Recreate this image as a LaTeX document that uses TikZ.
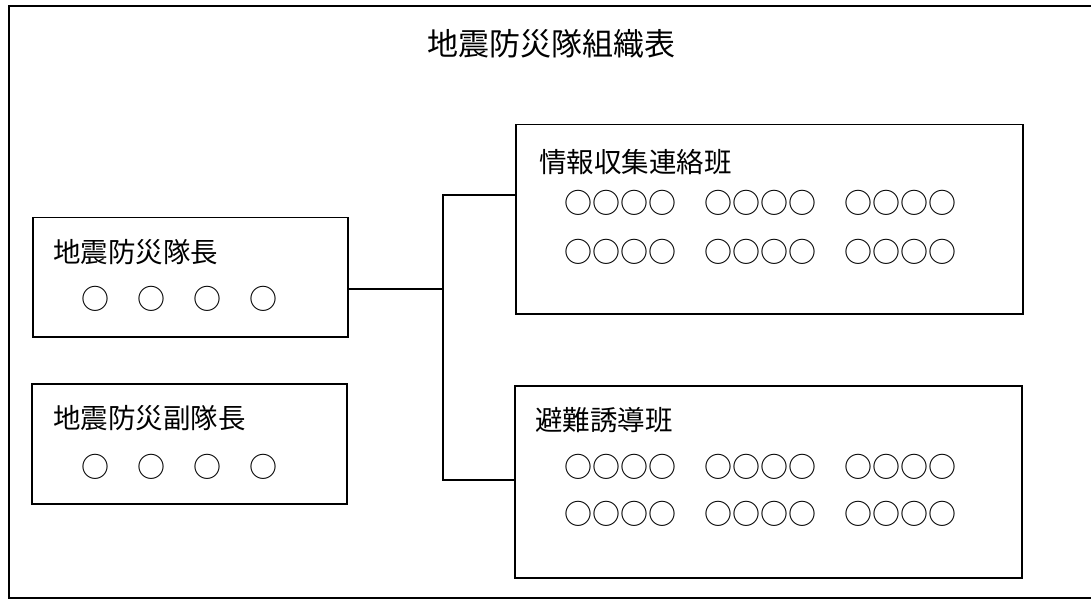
\documentclass[tikz,border=0pt]{standalone}
\usepackage{fontspec}
\setmainfont{Noto Sans CJK JP}
\begin{document}
\begin{tikzpicture}[x=1pt,y=-1pt,
  box/.style={draw,line width=1.5pt,rectangle,inner sep=0pt,anchor=north west},
  lbl/.style={anchor=west,inner sep=0pt,font=\fontsize{27.5}{27.5}\selectfont},
  marks/.style={anchor=west,inner sep=0pt,font=\fontsize{28}{28}\selectfont},
  link/.style={draw,line width=1.3pt}]
\useasboundingbox (0,0) rectangle (1091,601);
\draw[line width=1.6pt] (1091,6) -- (9,6) -- (9,598) -- (1091,598);
\node[font=\fontsize{31}{31}\selectfont] (title) at (551,44) {地震防災隊組織表};
% left boxes
\node[box,minimum width=315pt,minimum height=119pt] (chief) at (32,217) {};
\node[box,minimum width=315pt,minimum height=120pt] (vice) at (31,383) {};
\node[lbl] (chiefT) at (53,252) {地震防災隊長};
\node[marks] (chiefC) at (81,299) {○　○　○　○};
\node[lbl] (viceT) at (53,418) {地震防災副隊長};
\node[marks] (viceC) at (81,467) {○　○　○　○};
% right boxes
\node[box,minimum width=507pt,minimum height=189pt] (info) at (515,124) {};
\node[box,minimum width=507pt,minimum height=192pt] (evac) at (514,385) {};
\node[lbl] (infoT) at (539,162) {情報収集連絡班};
\node[marks] (infoC1) at (564.5,203) {○○○○　○○○○　○○○○};
\node[marks] (infoC2) at (564.5,252) {○○○○　○○○○　○○○○};
\node[lbl] (evacT) at (535,420) {避難誘導班};
\node[marks] (evacC1) at (564.5,467) {○○○○　○○○○　○○○○};
\node[marks] (evacC2) at (564.5,514) {○○○○　○○○○　○○○○};
% connectors
\coordinate (jm) at (443,289);
\coordinate (jt) at (443,195);
\coordinate (jb) at (443,480);
\draw[link] (chief.east |- jm) -- (jm);
\draw[link] (info.west |- jt) -- (jt) -- (jb) -- (evac.west |- jb);
\end{tikzpicture}
\end{document}
